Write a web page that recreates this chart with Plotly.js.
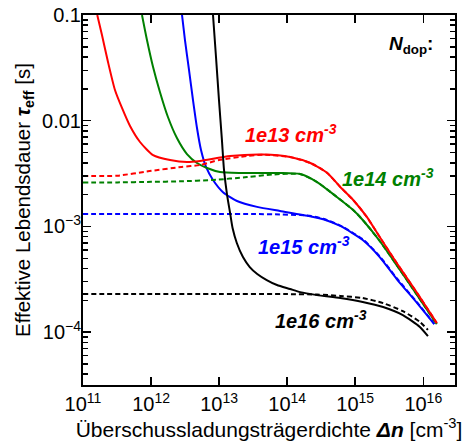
<!DOCTYPE html>
<html>
<head>
<meta charset="utf-8">
<script src="https://cdn.plot.ly/plotly-3.0.1.min.js"></script>
<style>
  html, body { margin: 0; padding: 0; background: #ffffff; }
  #chart { width: 466px; height: 445px; }
</style>
</head>
<body>
<div id="chart"></div>
<script>
// Effective lifetime vs. excess carrier density for four doping levels.
// Solid: with the low-injection rise; dashed: without it.

// N_dop = 1e13 cm^-3 (red)
const dn13Solid  = [1.62e11, 1.90e11, 2.33e11, 2.95e11, 3.74e11, 4.91e11, 6.88e11, 1.07e12, 1.90e12, 3.37e12, 5.25e12, 1.45e13, 4.42e13, 1.10e14, 2.19e14, 3.89e14, 6.03e14, 9.33e14, 1.48e15, 2.29e15, 4.07e15, 8.13e15, 1.58e16];
const tau13Solid = [0.100, 0.0647, 0.0359, 0.0195, 0.0132, 0.00891, 0.00629, 0.00473, 0.00425, 0.00406, 0.00416, 0.00463, 0.00478, 0.00454, 0.00398, 0.00320, 0.00236, 0.00178, 0.00123, 7.94e-4, 4.51e-4, 2.34e-4, 1.22e-4];
const dn13Dash   = [1.0e11, 3.2e11, 9.5e11, 2.8e12, 5.25e12, 1.0e13, 2.57e13, 4.42e13, 1.10e14, 2.19e14, 3.89e14, 6.03e14, 9.33e14, 1.48e15, 2.29e15, 4.07e15, 8.13e15, 1.58e16];
const tau13Dash  = [0.00300, 0.00302, 0.00334, 0.00365, 0.00381, 0.00425, 0.00463, 0.00476, 0.00454, 0.00398, 0.00320, 0.00236, 0.00178, 0.00123, 7.94e-4, 4.51e-4, 2.34e-4, 1.22e-4];

// N_dop = 1e14 cm^-3 (green)
const dn14Solid  = [7.36e11, 8.71e11, 1.07e12, 1.35e12, 1.77e12, 2.40e12, 3.37e12, 4.73e12, 6.64e12, 1.03e13, 2.03e13, 3.63e13, 7.76e13, 1.55e14, 2.75e14, 5.37e14, 9.33e14, 1.29e15, 2.29e15, 4.07e15, 8.13e15, 1.58e16];
const tau14Solid = [0.100, 0.0580, 0.0322, 0.0187, 0.01084, 0.00686, 0.00484, 0.00398, 0.00357, 0.00327, 0.00320, 0.00320, 0.00320, 0.00313, 0.00263, 0.00190, 0.00143, 0.00115, 7.28e-4, 4.30e-4, 2.24e-4, 1.19e-4];
const dn14Dash   = [1.0e11, 3.2e11, 1.0e12, 2.69e12, 8.13e12, 2.57e13, 6.17e13, 1.55e14, 2.75e14, 5.37e14, 9.33e14, 1.29e15, 2.29e15, 4.07e15, 8.13e15, 1.58e16];
const tau14Dash  = [0.00260, 0.00261, 0.00264, 0.00267, 0.00275, 0.00293, 0.00310, 0.00313, 0.00263, 0.00190, 0.00143, 0.00115, 7.28e-4, 4.30e-4, 2.24e-4, 1.19e-4];

// N_dop = 1e15 cm^-3 (blue)
const dn15Solid  = [2.85e12, 3.15e12, 3.61e12, 4.13e12, 4.73e12, 5.42e12, 6.42e12, 8.13e12, 1.14e13, 1.83e13, 3.61e13, 7.84e13, 2.16e14, 3.39e14, 6.03e14, 1.29e15, 2.29e15, 4.07e15, 8.13e15, 1.45e16];
const tau15Solid = [0.100, 0.0580, 0.0302, 0.0157, 0.00853, 0.00528, 0.00365, 0.00275, 0.00211, 0.00174, 0.00153, 0.00140, 0.00125, 0.00117, 0.00101, 7.43e-4, 5.13e-4, 3.18e-4, 1.88e-4, 1.19e-4];
const dn15Dash   = [1.0e11, 1.0e12, 1.0e13, 3.16e13, 7.76e13, 1.55e14, 2.16e14, 3.39e14, 6.03e14, 1.29e15, 2.29e15, 4.07e15, 8.13e15, 1.45e16];
const tau15Dash  = [0.00131, 0.00131, 0.00131, 0.00131, 0.00130, 0.00128, 0.00126, 0.00118, 0.00102, 7.55e-4, 5.22e-4, 3.24e-4, 1.91e-4, 1.20e-4];

// N_dop = 1e16 cm^-3 (black)
const dn16Solid  = [8.13e12, 9.0e12, 9.95e12, 1.10e13, 1.18e13, 1.31e13, 1.45e13, 1.58e13, 1.82e13, 2.24e13, 2.82e13, 3.63e13, 5.01e13, 7.08e13, 1.10e14, 1.55e14, 2.75e14, 6.03e14, 1.29e15, 2.57e15, 5.01e15, 8.91e15, 1.17e16];
const tau16Solid = [0.100, 0.0401, 0.0157, 0.00656, 0.00342, 0.00198, 0.00134, 9.6e-4, 6.97e-4, 5.13e-4, 4.13e-4, 3.55e-4, 3.11e-4, 2.79e-4, 2.56e-4, 2.39e-4, 2.24e-4, 2.10e-4, 1.93e-4, 1.73e-4, 1.45e-4, 1.12e-4, 9.18e-5];
const dn16Dash   = [1.0e11, 1.0e13, 1.0e14, 2.75e14, 6.03e14, 1.29e15, 2.57e15, 5.01e15, 8.91e15, 1.17e16];
const tau16Dash  = [2.29e-4, 2.29e-4, 2.29e-4, 2.27e-4, 2.20e-4, 2.10e-4, 1.88e-4, 1.58e-4, 1.25e-4, 1.05e-4];

// Axis ticks
const xTickVals = [1e11, 1e12, 1e13, 1e14, 1e15, 1e16];
const xTickText = ['10<sup>11</sup>', '10<sup>12</sup>', '10<sup>13</sup>', '10<sup>14</sup>', '10<sup>15</sup>', '10<sup>16</sup>'];
const yTickVals = [1e-4, 1e-3, 1e-2, 1e-1];
const yTickText = ['10<sup>\u22124</sup>', '10<sup>\u22123</sup>', '0.01', '0.1'];

// Curve labels
const labels = ['1e13 cm<sup>-3</sup>', '1e14 cm<sup>-3</sup>', '1e15 cm<sup>-3</sup>', '1e16 cm<sup>-3</sup>'];
const labelColors = ['#ff0000', '#008000', '#0000ff', '#000000'];

const FONT = 'Liberation Sans, Arial, Helvetica, sans-serif';
const X_RANGE = [11, 16.466];
const Y_RANGE = [-4.5, -1];

// 2..9 x 10^n positions for the short in-between ticks
function decadeSubTicks(fromExp, toExp) {
  const v = [];
  for (let e = fromExp; e <= toExp; e++) {
    for (let m = 2; m <= 9; m++) v.push(m * Math.pow(10, e));
  }
  return v;
}

function line(x, y, color, dashed) {
  return {
    x: x, y: y, type: 'scatter', mode: 'lines',
    line: { color: color, width: 2, dash: dashed ? '5px,3px' : 'solid', shape: 'spline', smoothing: 0.6 },
    hoverinfo: 'skip', showlegend: false
  };
}

const traces = [
  line(dn15Solid, tau15Solid, labelColors[2], false),
  line(dn15Dash, tau15Dash, labelColors[2], true),
  line(dn14Solid, tau14Solid, labelColors[1], false),
  line(dn14Dash, tau14Dash, labelColors[1], true),
  line(dn13Dash, tau13Dash, labelColors[0], true),
  line(dn13Solid, tau13Solid, labelColors[0], false),
  line(dn16Dash, tau16Dash, labelColors[3], true),
  line(dn16Solid, tau16Solid, labelColors[3], false),
  // empty carrier so the sub-tick overlay axis gets drawn
  { x: [], y: [], xaxis: 'x', yaxis: 'y2', type: 'scatter', mode: 'lines', hoverinfo: 'skip', showlegend: false }
];

const axisCommon = {
  type: 'log',
  showline: true, linecolor: '#000', linewidth: 2, mirror: 'ticks',
  ticks: 'inside', ticklen: 8, tickwidth: 1.5, tickcolor: '#000',
  showgrid: false, zeroline: false,
  tickfont: { family: FONT, size: 20, color: '#000' }
};

// Overlay axis that only carries the short sub-decade ticks
const subTickAxis = {
  type: 'log', tickmode: 'array',
  ticks: 'inside', ticklen: 5, tickwidth: 1.5, tickcolor: '#000',
  showticklabels: false, showline: false, mirror: 'ticks',
  showgrid: false, zeroline: false
};

const layout = {
  width: 466, height: 445,
  margin: { l: 83, r: 11, t: 15, b: 60 },
  paper_bgcolor: '#fff', plot_bgcolor: '#fff',
  xaxis: Object.assign({}, axisCommon, {
    range: X_RANGE,
    tickmode: 'array', tickvals: xTickVals, ticktext: xTickText,
    title: { text: 'Überschussladungsträgerdichte <b><i>Δn</i></b> [cm<sup>-3</sup>]', font: { family: FONT, size: 21, color: '#000' }, standoff: 6 }
  }),
  yaxis: Object.assign({}, axisCommon, {
    range: Y_RANGE,
    tickmode: 'array', tickvals: yTickVals, ticktext: yTickText,
    ticklabelstandoff: -4,
    title: { text: 'Effektive Lebendsdauer <b><i>τ</i></b><sub><b>eff</b></sub> [s]', font: { family: FONT, size: 20.5, color: '#000' }, standoff: 6 }
  }),
  yaxis2: Object.assign({}, subTickAxis, {
    overlaying: 'y', anchor: 'x', side: 'left', range: Y_RANGE, tickvals: decadeSubTicks(-5, -2)
  }),
  annotations: [
    { xref: 'paper', yref: 'paper', x: 0.946, y: 0.919, xanchor: 'right', yanchor: 'middle', showarrow: false,
      text: '<b><i>N</i></b><sub><b>dop</b></sub><b>:</b>', font: { family: FONT, size: 19, color: '#000' } },
    { xref: 'paper', yref: 'paper', x: 0.559, y: 0.681, xanchor: 'center', yanchor: 'middle', showarrow: false,
      text: '<b><i>' + labels[0] + '</i></b>', font: { family: FONT, size: 20, color: labelColors[0] } },
    { xref: 'paper', yref: 'paper', x: 0.819, y: 0.562, xanchor: 'center', yanchor: 'middle', showarrow: false,
      text: '<b><i>' + labels[1] + '</i></b>', font: { family: FONT, size: 20, color: labelColors[1] } },
    { xref: 'paper', yref: 'paper', x: 0.593, y: 0.378, xanchor: 'center', yanchor: 'middle', showarrow: false,
      text: '<b><i>' + labels[2] + '</i></b>', font: { family: FONT, size: 20, color: labelColors[2] } },
    { xref: 'paper', yref: 'paper', x: 0.640, y: 0.176, xanchor: 'center', yanchor: 'middle', showarrow: false,
      text: '<b><i>' + labels[3] + '</i></b>', font: { family: FONT, size: 20, color: labelColors[3] } }
  ]
};

Plotly.newPlot('chart', traces, layout, { displayModeBar: false, staticPlot: true });
</script>
</body>
</html>
